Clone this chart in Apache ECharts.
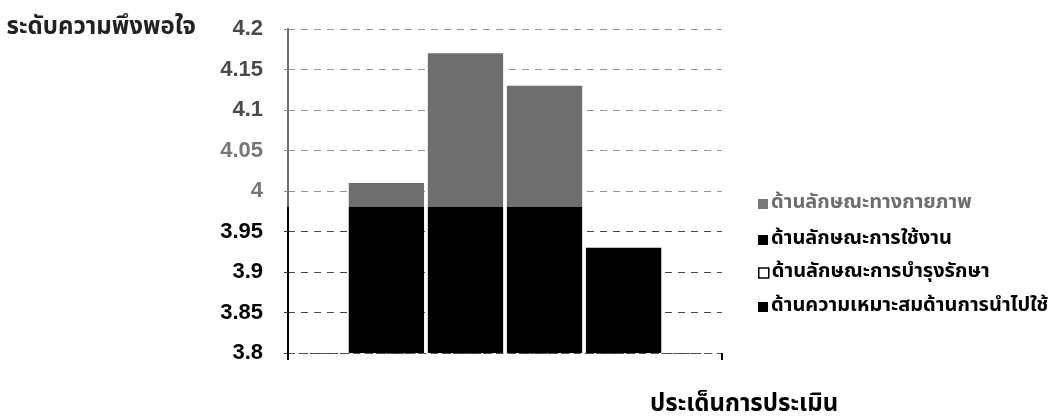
<!DOCTYPE html>
<html>
<head>
<meta charset="utf-8">
<script src="https://cdn.jsdelivr.net/npm/echarts@6/dist/echarts.min.js"></script>
<style>
  html, body { margin: 0; padding: 0; background: #fff; }
  #chart { width: 1054px; height: 417px; }
</style>
</head>
<body>
<div id="chart"></div>
<script>
// Satisfaction level per assessment aspect
const aspects = [
  'ด้านลักษณะทางกายภาพ',
  'ด้านลักษณะการใช้งาน',
  'ด้านลักษณะการบำรุงรักษา',
  'ด้านความเหมาะสมด้านการนำไปใช้'
];
const scores = [4.01, 4.17, 4.13, 3.93];
const yTicks = { min: 3.8, max: 4.2, step: 0.05 };
const yTitle = 'ระดับความพึงพอใจ';
const xTitle = 'ประเด็นการประเมิน';

const thaiFont = '"Noto Sans Thai", "Noto Sans Thai Looped", Tahoma, "DejaVu Sans", sans-serif';
const numFont = '"Liberation Sans", Arial, sans-serif';

const chart = echarts.init(document.getElementById('chart'), null, { renderer: 'canvas' });

const series = aspects.map((name, i) => ({
  name: name,
  type: 'bar',
  data: [scores[i]],
  barGap: '5%',
  barCategoryGap: '28%',
  itemStyle: { color: '#000' },
  z: 2
}));

const legendIcons = [
  { color: '#777' },
  { color: '#000' },
  { color: '#fff', borderColor: '#000', borderWidth: 1.5 },
  { color: '#000' }
];
const legendText = ['#6e6e6e', '#000', '#000', '#000'];
// one legend block per aspect, stacked down the right side
const legendRows = [199, 235, 268, 302];

const legends = aspects.map((name, i) => ({
  orient: 'vertical',
  left: 753,
  top: legendRows[i] - 10,
  height: 20,
  itemWidth: 10,
  itemHeight: 10,
  icon: 'rect',
  selectedMode: false,
  textStyle: { fontSize: 20, lineHeight: 20, fontWeight: 'bold', color: legendText[i], fontFamily: thaiFont, padding: [0, 0, 0, -2] },
  data: [{ name: name, itemStyle: legendIcons[i] }]
}));

chart.setOption({
  animation: false,
  backgroundColor: '#fff',
  textStyle: { fontFamily: thaiFont },
  grid: { left: 288, right: 332, top: 29, bottom: 64, containLabel: false },
  legend: legends,
  xAxis: {
    type: 'category',
    data: [''],
    axisLine: { show: true, lineStyle: { color: '#555', type: [6, 5], width: 1 } },
    axisTick: { show: true, alignWithLabel: false, length: 7, lineStyle: { color: '#000', width: 2 } },
    axisLabel: { show: false },
    splitLine: { show: false }
  },
  yAxis: {
    type: 'value',
    min: yTicks.min,
    max: yTicks.max,
    interval: yTicks.step,
    name: yTitle,
    nameLocation: 'end',
    nameGap: 0,
    nameTextStyle: { fontSize: 24, fontWeight: 'bold', color: '#222', fontFamily: thaiFont, align: 'right', verticalAlign: 'middle', padding: [0, 92, 0, 0] },
    axisLine: { show: true, lineStyle: { color: '#000', width: 2 } },
    axisTick: { show: true, length: 4, lineStyle: { color: '#333' } },
    axisLabel: {
      fontSize: 22,
      fontWeight: 'bold',
      fontFamily: numFont,
      margin: 25,
      color: v => (v >= 4.08 ? '#4a4a4a' : v >= 3.98 ? '#777' : '#000'),
      formatter: v => String(Math.round(v * 100) / 100)
    },
    splitLine: { show: true, lineStyle: { color: '#444', type: [7, 6], width: 1 } }
  },
  graphic: [
    {
      type: 'text',
      left: 650,
      top: 394,
      style: { text: xTitle, font: 'bold 24px ' + thaiFont, fill: '#000' }
    },
    {
      // faded upper band of the plot
      type: 'rect',
      left: 284,
      top: 0,
      shape: { width: 450, height: 207 },
      style: { fill: 'rgba(255,255,255,0.43)' },
      z: 100,
      silent: true
    }
  ],
  series: series
});
</script>
</body>
</html>
